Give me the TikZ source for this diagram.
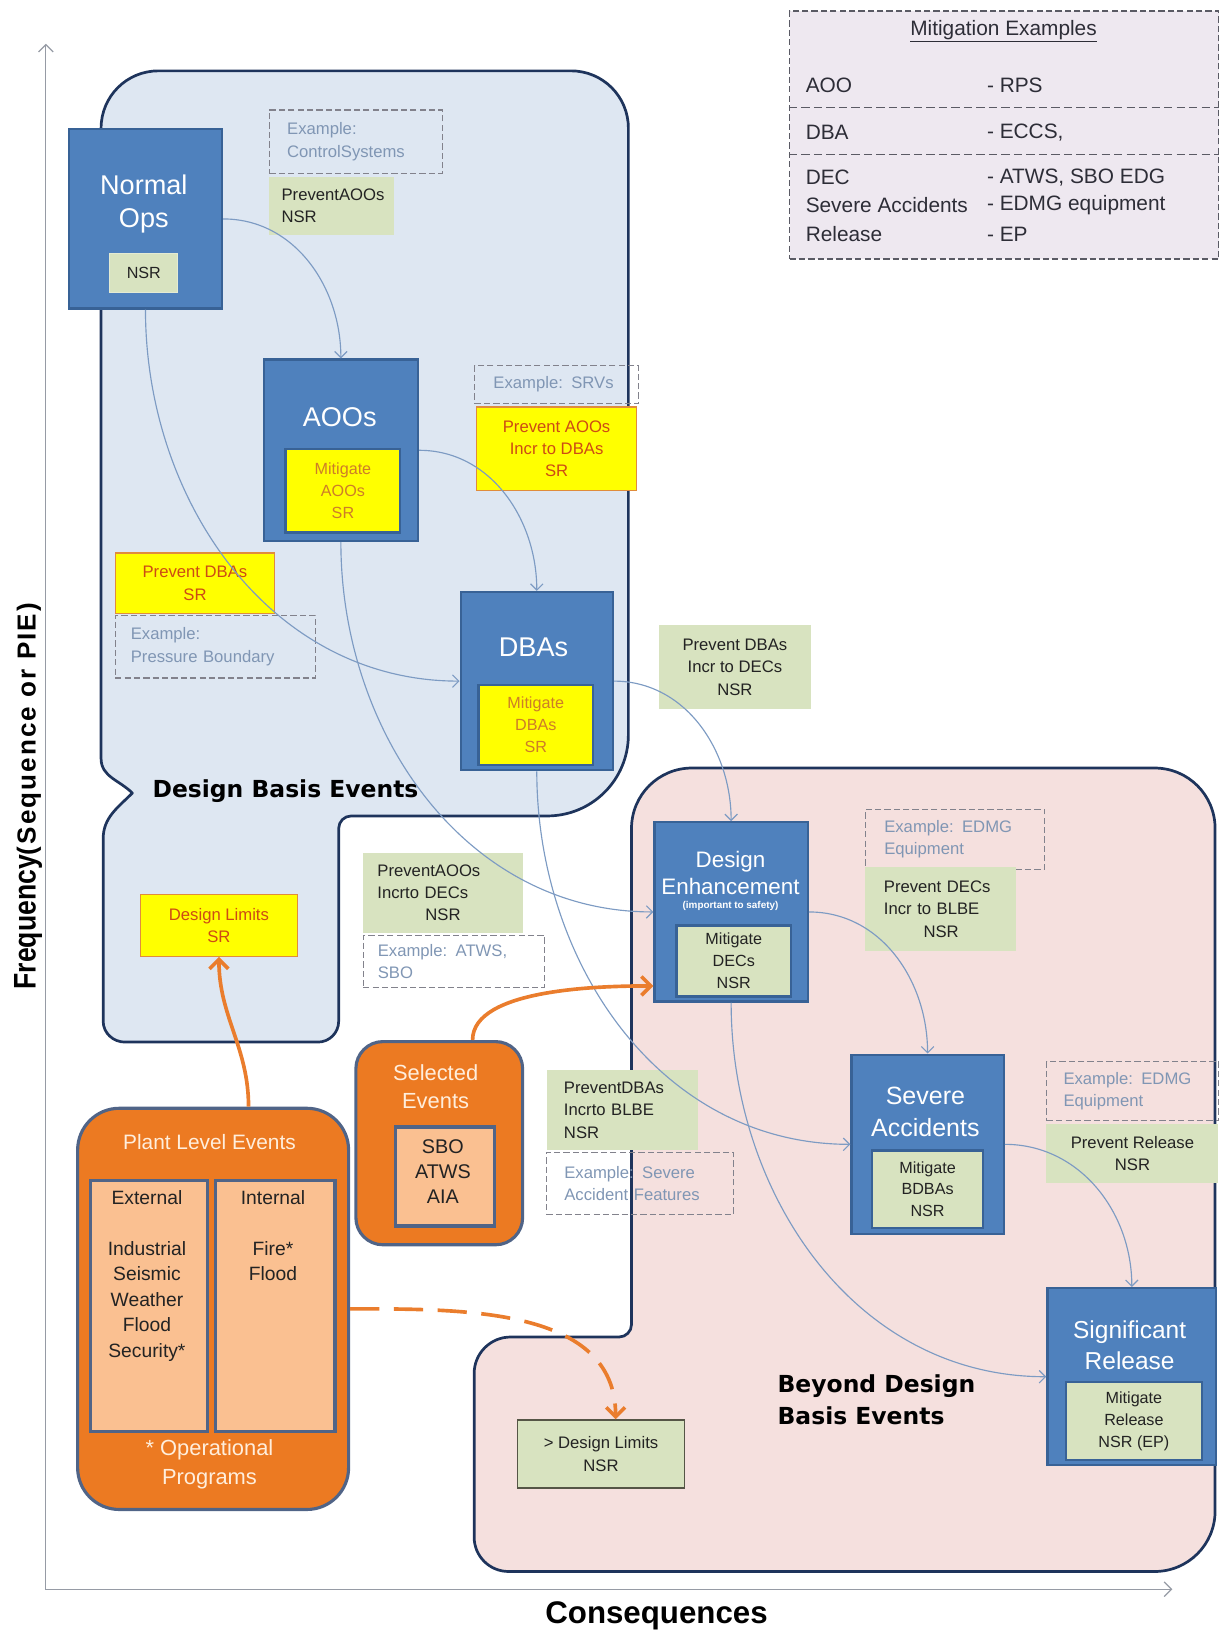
\documentclass[tikz,border=0pt]{standalone}
\usepackage{fontspec}
\setmainfont{Liberation Sans}
\newfontfamily\titlefont{DejaVu Sans}
\newfontfamily\narrowfont{Liberation Sans}[FakeStretch=0.85]
\newfontfamily\spacedfont{Liberation Sans}[LetterSpace=8]
\usetikzlibrary{arrows.meta}
\newcommand\fsz[2]{\fontsize{#1}{#2}\selectfont}
\newcommand\bx[7]{\node[#1, anchor=north west, minimum width=#5-#3, minimum height=#6-#4] (#2) at (#3,-#4) {#7};}
\definecolor{bfill}{RGB}{79,129,189}
\definecolor{bbord}{RGB}{56,98,150}
\definecolor{gfill}{RGB}{216,227,192}
\definecolor{yel}{RGB}{255,255,0}
\definecolor{yborder}{RGB}{224,140,60}
\definecolor{rtext}{RGB}{205,75,20}
\definecolor{ytext}{RGB}{205,125,40}
\definecolor{txtdark}{RGB}{35,35,35}
\definecolor{exborder}{RGB}{130,130,140}
\definecolor{extext}{RGB}{128,150,180}
\definecolor{orfill}{RGB}{236,122,34}
\definecolor{slate}{RGB}{80,100,135}
\definecolor{peach}{RGB}{250,192,145}
\definecolor{cream}{RGB}{255,238,220}
\definecolor{regborder}{RGB}{30,52,92}
\definecolor{dbefill}{RGB}{222,231,242}
\definecolor{bdbefill}{RGB}{245,224,222}
\definecolor{conncol}{RGB}{125,155,195}
\definecolor{orline}{RGB}{234,125,45}
\definecolor{axiscol}{RGB}{150,155,165}
\definecolor{mitfill}{RGB}{238,232,240}
\definecolor{mitborder}{RGB}{90,90,100}
\definecolor{mtextcol}{RGB}{45,45,55}
\definecolor{olivedark}{RGB}{85,85,70}
\tikzset{
 bluebox/.style={draw=bbord, fill=bfill, line width=2.2pt, inner sep=0pt},
 btitle/.style={text=white, align=center, inner sep=0pt, font=\fsz{26}{32}},
 ingreen/.style={draw=bbord, fill=gfill, line width=2.2pt, align=center, text=txtdark, font=\fsz{15.5}{21}, inner sep=0pt},
 inyellow/.style={draw=bbord, fill=yel, line width=2.2pt, align=center, text=ytext, font=\fsz{15.5}{21}, inner sep=0pt},
 gnote/.style={fill=gfill, align=center, text=txtdark, font=\fsz{16}{21.5}, inner sep=0pt},
 ynote/.style={fill=yel, draw=yborder, line width=1.2pt, align=center, text=rtext, font=\fsz{16}{21.5}, inner sep=0pt},
 exbox/.style={draw=exborder, dash pattern=on 6pt off 3pt, line width=1.1pt, align=left, text=extext, font=\fsz{16}{21.5}, inner ysep=0pt},
 orbox/.style={fill=orfill, draw=slate, line width=3pt, inner sep=0pt},
 peachbox/.style={fill=peach, draw=slate, line width=3pt, inner sep=0pt},
 region/.style={draw=regborder, line width=2.6pt, line join=round},
 conn/.style={draw=conncol, line width=1.1pt, -{Straight Barb[length=6pt,width=12pt]}},
 oarrow/.style={draw=orline, line width=3.5pt, -{Straight Barb[length=9pt,width=18pt]}},
 odash/.style={oarrow, dash pattern=on 28pt off 14pt},
 axis/.style={draw=axiscol, line width=1.2pt},
 bigbold/.style={font=\titlefont\bfseries\fsz{22.5}{31}, align=left, text=black, inner sep=0pt},
 mtext/.style={font=\fsz{20}{24}, text=mtextcol, inner sep=0pt, anchor=west},
 otitle/.style={text=cream, align=center, inner sep=0pt},
 ptext/.style={text=txtdark, align=center, inner sep=0pt, font=\fsz{18.5}{24.5}},
}
\begin{document}
\begin{tikzpicture}[x=1pt,y=1pt]
\useasboundingbox (0,0) rectangle (1169,-1568);
% axes
\coordinate (origin) at (44,-1525);
\coordinate (ytop) at (44,-42);
\coordinate (xend) at (1125,-1525);
\draw[axis, {Straight Barb[length=7pt,width=14pt]}-{Straight Barb[length=7pt,width=14pt]}] (ytop) -- (origin) -- (xend);
\node[rotate=90, inner sep=0pt] (ylab) at (27,-764) {{\narrowfont\bfseries\fsz{30}{31}Frequency}{\spacedfont\bfseries\fsz{25}{26}(Sequence or PIE)}};
\node[inner sep=0pt, font=\bfseries\fsz{30}{32}] (xlab) at (630,-1551) {Consequences};

% regions
\draw[region, fill=dbefill] (97,-123) to[out=90,in=180] (152,-68) -- (548,-68) to[out=0,in=90] (603,-123) -- (603,-705) to[out=-90,in=0] (525,-783) -- (337,-783) to[out=180,in=90] (325,-795) -- (325,-980) to[out=-90,in=0] (305,-1000) -- (120,-1000) to[out=180,in=-90] (99,-980) -- (99,-805) to[out=90,in=-135] (127,-761) to[out=135,in=-90] (97,-728) -- cycle;
\draw[region, fill=bdbefill] (606,-795) to[out=90,in=180] (664,-737) -- (1108,-737) to[out=0,in=90] (1166,-795) -- (1166,-1450) to[out=-90,in=0] (1108,-1508) -- (488,-1508) to[out=180,in=-90] (455,-1475) -- (455,-1318) to[out=90,in=180] (490,-1283) -- (594,-1283) to[out=0,in=-90] (606,-1271) -- cycle;

% mitigation examples
\node[draw=mitborder, fill=mitfill, dash pattern=on 6pt off 3pt, line width=1.3pt, anchor=north west, minimum width=412, minimum height=238, inner sep=0pt] (mit) at (757,-10) {};
\node[font=\fsz{20}{24}, text=mtextcol, inner sep=0pt] (mt) at (963,-30) {\underline{Mitigation Examples}};
\draw[draw=mitborder, dash pattern=on 8pt off 4pt, line width=1.1pt] ([yshift=-93pt]mit.north west) -- ([yshift=-93pt]mit.north east);
\draw[draw=mitborder, dash pattern=on 8pt off 4pt, line width=1.1pt] ([yshift=-138pt]mit.north west) -- ([yshift=-138pt]mit.north east);
\node[mtext] (ma1) at (773,-82) {AOO};
\node[mtext] (ma2) at (947,-82) {- RPS};
\node[mtext] (mb1) at (773,-127) {DBA};
\node[mtext] (mb2) at (947,-127) {- ECCS,};
\node[mtext] (mc1) at (773,-170) {DEC};
\node[mtext] (mc2) at (947,-170) {- ATWS, SBO EDG};
\node[mtext] (md1) at (773,-197) {Severe Accidents};
\node[mtext] (md2) at (947,-197) {- EDMG equipment};
\node[mtext] (me1) at (773,-225) {Release};
\node[mtext] (me2) at (947,-225) {- EP};

% notes
\bx{exbox, inner xsep=17pt, text width=132pt}{ex1}{258}{105}{424}{166}{Example:\\ControlSystems}
\bx{gnote, align=left, inner xsep=12pt, text width=96pt}{pa1}{258}{170}{378}{225}{PreventAOOs\\NSR}
\bx{exbox, inner xsep=18pt, text width=121pt}{ex2}{455}{350}{612}{387}{Example: SRVs}
\bx{ynote}{pa7}{457}{390}{610}{470}{Prevent AOOs\\Incr to DBAs\\SR}
\bx{ynote}{pd8}{110}{530}{263}{588}{Prevent DBAs\\SR}
\bx{exbox, inner xsep=15pt, text width=162pt}{ex3}{110}{590}{302}{650}{Example:\\Pressure Boundary}
\bx{gnote}{pd2}{632}{600}{778}{680}{Prevent DBAs\\Incr to DECs\\NSR}
\bx{ynote}{dl}{134}{858}{285}{917}{Design Limits\\SR}
\bx{gnote, align=left, inner xsep=14pt, text width=126pt}{pa3}{348}{818}{502}{895}{PreventAOOs\\Incrto DECs\\\hspace*{46pt}NSR}
\bx{exbox, inner xsep=14pt, text width=146pt}{ex4}{348}{897}{522}{947}{Example: ATWS,\\SBO}
\bx{exbox, inner xsep=18pt, text width=136pt}{ex5}{830}{776}{1002}{834}{Example: EDMG\\Equipment}
\bx{gnote, align=left, inner xsep=18pt, text width=109pt}{pd4}{830}{832}{975}{912}{Prevent DECs\\Incr to BLBE\\\hspace*{38pt}NSR}
\bx{gnote, align=left, inner xsep=16pt, text width=113pt}{pd5}{525}{1027}{670}{1103}{PreventDBAs\\Incrto BLBE\\NSR}
\bx{exbox, inner xsep=17pt, text width=145pt}{ex6}{524}{1105}{703}{1165}{Example: Severe\\Accident Features}
\bx{exbox, inner xsep=16pt, text width=133pt}{ex7}{1004}{1018}{1169}{1075}{Example: EDMG\\Equipment}
\bx{gnote}{pr6}{1004}{1078}{1169}{1135}{Prevent Release\\NSR}
\bx{gnote, draw=olivedark, line width=1.5pt}{dl2}{496}{1362}{656}{1427}{> Design Limits\\NSR}

% blue boxes
\bx{bluebox}{no}{65}{123}{212}{295}{}
\node[btitle, font=\fsz{26}{32}] (not) at (138,-196) {Normal\\Ops};
\bx{ingreen, draw=gfill!70!white, line width=1pt}{nonsr}{105}{243}{170}{280}{NSR}

\bx{bluebox}{aoo}{252}{344}{400}{518}{}
\node[btitle] (aoot) at (326,-400) {AOOs};
\bx{inyellow}{aoom}{273}{430}{383}{510}{Mitigate\\AOOs\\SR}

\bx{bluebox}{dba}{441}{567}{587}{738}{}
\node[btitle] (dbat) at (512,-621) {DBAs};
\bx{inyellow}{dbam}{458}{656}{568}{733}{Mitigate\\DBAs\\SR}

\bx{bluebox}{de}{627}{788}{774}{960}{}
\node[btitle, font=\fsz{21.5}{26}] (det) at (701,-838) {Design\\Enhancement};
\node[text=white, inner sep=0pt, font=\bfseries\fsz{9.5}{10}] (des) at (701,-869) {(important to safety)};
\bx{ingreen}{dem}{648}{887}{758}{955}{Mitigate\\DECs\\NSR}

\bx{bluebox}{sa}{816}{1011}{962}{1183}{}
\node[btitle, font=\fsz{24}{31}] (sat) at (888,-1067) {Severe\\Accidents};
\bx{ingreen}{sam}{836}{1103}{942}{1177}{Mitigate\\BDBAs\\NSR}

\bx{bluebox}{sr}{1004}{1235}{1166}{1405}{}
\node[btitle, font=\fsz{23.5}{30}] (srt) at (1084,-1291) {Significant\\Release};
\bx{ingreen}{srm}{1022}{1325}{1152}{1400}{Mitigate\\Release\\NSR (EP)}

% region labels
\node[bigbold] (dbel) at (274,-759) {Design Basis Events};
\node[bigbold, anchor=west] (bdbel) at (746,-1343) {Beyond Design\\Basis Events};

% orange boxes
\bx{orbox, rounded corners=26pt}{se}{340}{998}{500}{1193}{}
\node[otitle, font=\fsz{21}{27}] (set) at (418,-1043) {Selected\\Events};
\bx{peachbox}{sei}{378}{1080}{473}{1175}{}
\node[ptext, font=\fsz{19}{24}] (seit) at (425,-1124) {SBO\\ATWS\\AIA};

\bx{orbox, rounded corners=40pt}{ple}{73}{1062}{333}{1447}{}
\node[otitle, font=\fsz{20}{24}] (plet) at (201,-1096) {Plant Level Events};
\bx{peachbox}{ext}{85}{1131}{198}{1372}{}
\bx{peachbox}{int}{205}{1131}{320}{1372}{}
\node[ptext, anchor=north] (extt) at (141,-1142) {External\\ \\Industrial\\Seismic\\Weather\\Flood\\Security*};
\node[ptext, anchor=north] (intt) at (262,-1142) {Internal\\ \\Fire*\\Flood};
\node[otitle, font=\fsz{21}{28}] (plef) at (201,-1405) {* Operational\\Programs};

% connectors
\draw[conn] (no.east) to[out=0,in=90] (aoo.north);
\draw[conn] (no.south) to[out=-90,in=180] (dba.west);
\draw[conn] (aoo.east) to[out=0,in=90] (dba.north);
\draw[conn] (aoo.south) to[out=-90,in=180] (de.west);
\draw[conn] (dba.east) to[out=0,in=90] (de.north);
\draw[conn] (dba.south) to[out=-90,in=180] (sa.west);
\draw[conn] (de.east) to[out=0,in=90] (sa.north);
\draw[conn] (de.south) to[out=-90,in=180] (sr.west);
\draw[conn] (sa.east) to[out=0,in=90] (sr.north);

% orange arrows
\draw[oarrow] ([xshift=34pt]ple.north) to[out=90,in=-90] (dl.south);
\draw[oarrow] ([xshift=32pt]se.north) to[out=90,in=180,looseness=0.7] ([yshift=-71pt]de.west);
\draw[odash] (ple.east) to[out=0,in=90] ([xshift=14pt]dl2.north);
\end{tikzpicture}
\end{document}
